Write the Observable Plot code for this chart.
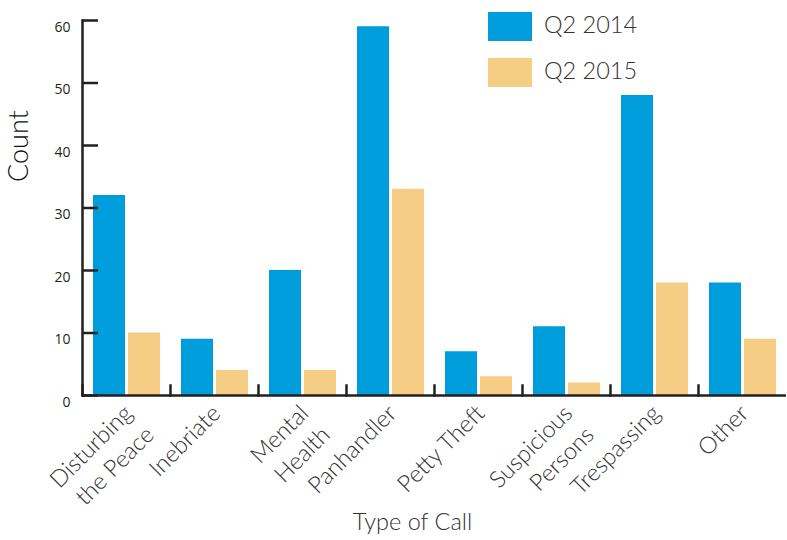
<!DOCTYPE html>
<html>
<head>
<meta charset="utf-8">
<script src="https://cdn.jsdelivr.net/npm/d3@7"></script>
<script src="https://cdn.jsdelivr.net/npm/@observablehq/plot@0.6"></script>
<style>
  html, body { margin: 0; padding: 0; background: #fff; }
  #wrap { position: relative; width: 787px; height: 540px; font-family: Lato, "Open Sans", sans-serif; }
  #legend { position: absolute; left: 488px; top: 12px; }
  .item { position: absolute; left: 0; white-space: nowrap; }
  .sw { position: absolute; left: 0; width: 44px; height: 29px; }
  .lab { position: absolute; left: 56px; font-size: 23.5px; font-weight: 300; color: #333; line-height: 1; }
</style>
</head>
<body>
<div id="wrap"></div>
<script>
const categories = ["Disturbing\nthe Peace", "Inebriate", "Mental\nHealth", "Panhandler", "Petty Theft", "Suspicious\nPersons", "Trespassing", "Other"];
const series = ["Q2 2014", "Q2 2015"];
const values2014 = [32, 9, 20, 59, 7, 11, 48, 18];
const values2015 = [10, 4, 4, 33, 3, 2, 18, 9];
const yTicks = [0, 10, 20, 30, 40, 50, 60];
const colors = ["#009ddc", "#f6cd85"];
const yTitle = "Count";
const xTitle = "Type of Call";

const dark = "#231f20";
const data = [];
categories.forEach((c, i) => {
  data.push({cat: c, series: series[0], value: values2014[i]});
  data.push({cat: c, series: series[1], value: values2015[i]});
});

const plot = Plot.plot({
  width: 787,
  height: 540,
  marginLeft: 81,
  marginRight: 0,
  marginTop: 20,
  marginBottom: 145,
  style: {fontFamily: "Lato, 'Open Sans', sans-serif", background: "#fff"},
  fx: {domain: categories, padding: 0, axis: null},
  x: {domain: series, paddingInner: 0.1, paddingOuter: 0.28, axis: null},
  y: {domain: [0, 60], axis: null},
  color: {domain: series, range: colors},
  marks: [
    Plot.barY(data, {fx: "cat", x: "series", y: "value", fill: "series"}),
    Plot.ruleY([0], {stroke: dark, strokeWidth: 2.5}),
    Plot.frame({anchor: "left", insetTop: 365, stroke: dark, strokeWidth: 2.5}),
    Plot.frame({anchor: "left", facetAnchor: "left", stroke: dark, strokeWidth: 2.5}),
    Plot.axisY({ticks: yTicks, tickSize: -16, stroke: dark, strokeWidth: 2.5, text: null, label: null}),
    Plot.axisY({ticks: yTicks, tickSize: 0, tickPadding: 12, dy: 7, fontSize: 14, fontWeight: 500, fill: dark, label: null, fontFamily: "'Open Sans', sans-serif"}),
    Plot.text([yTitle], {frameAnchor: "left", facetAnchor: "left", rotate: -90, dx: -63, dy: -26, fontSize: 27, fontWeight: 300, fill: "#111", text: d => d}),
    Plot.text(categories, {fx: d => d, text: d => d, frameAnchor: "bottom", rotate: -45, textAnchor: "end", lineAnchor: "top", dy: 4, dx: -8, fontSize: 23.5, fontWeight: 300, lineHeight: 1.3, fill: "#333"}),
    Plot.text([xTitle], {facet: "super", frameAnchor: "bottom", text: d => d, dx: -22, dy: 127, lineAnchor: "middle", fontSize: 23.5, fontWeight: 300, fill: "#333"})
  ]
});

const wrap = document.getElementById("wrap");
wrap.appendChild(plot);

const color = plot.scale("color");
const legend = document.createElement("div");
legend.id = "legend";
series.forEach((s, i) => {
  const item = document.createElement("div");
  item.className = "item";
  item.style.top = (i * 46) + "px";
  const sw = document.createElement("div");
  sw.className = "sw";
  sw.style.background = color.apply(s);
  const lab = document.createElement("div");
  lab.className = "lab";
  lab.style.top = "1px";
  lab.textContent = s;
  item.appendChild(sw);
  item.appendChild(lab);
  legend.appendChild(item);
});
wrap.appendChild(legend);
</script>
</body>
</html>
